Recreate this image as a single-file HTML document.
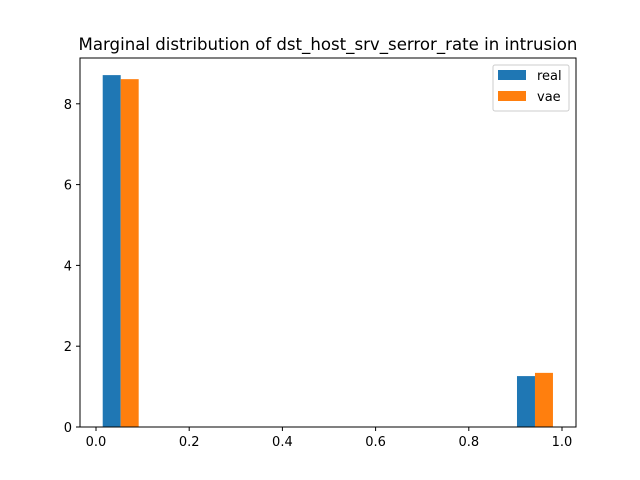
<!DOCTYPE html>
<html><head><meta charset="utf-8"><style>body{margin:0;background:#fff}svg{display:block;font-family:"DejaVu Sans","Liberation Sans",sans-serif}</style></head>
<body>
<svg id="chart" width="640" height="480">
<text x="328" y="50" font-size="16.6" text-anchor="middle">Marginal distribution of dst_host_srv_serror_rate in intrusion</text>
<g id="bars"></g>
<rect x="80" y="58" width="496" height="369" fill="none" stroke="#000" stroke-width="1"/>
<g id="xt"></g><g id="yt"></g>
<g>
<rect x="493" y="65" width="76" height="46" fill="#fff" stroke="#ccc" rx="2"/>
<rect x="498" y="70" width="28" height="10" fill="#1f77b4"/>
<text x="537" y="80" font-size="13">real</text>
<rect x="498" y="91" width="28" height="10" fill="#ff7f0e"/>
<text x="537" y="101" font-size="13">vae</text>
</g>
</svg>
<script>
const binCenters=[0.053,0.942];
const realVals=[8.71,1.26];
const vaeVals=[8.61,1.34];
const xTicks=[0,0.2,0.4,0.6,0.8,1.0];
const xTickLabels=["0.0","0.2","0.4","0.6","0.8","1.0"];
const yTicks=[0,2,4,6,8];
const barW=0.0386;
const NS="http://www.w3.org/2000/svg";
function xs(v){return 96+v*466;}
function ys(v){return 427-v*40.4;}
const bars=document.getElementById('bars');
function mk(t,a,p){const e=document.createElementNS(NS,t);for(const k in a)e.setAttribute(k,a[k]);p.appendChild(e);return e;}
binCenters.forEach((c,i)=>{
 const r=mk('rect',{x:xs(c-barW),y:ys(realVals[i]),width:xs(c)-xs(c-barW),height:ys(0)-ys(realVals[i]),fill:'#1f77b4'},bars);
 
 
 const v=mk('rect',{x:xs(c),y:ys(vaeVals[i]),width:xs(c+barW)-xs(c),height:ys(0)-ys(vaeVals[i]),fill:'#ff7f0e'},bars);
 
 
});
const xt=document.getElementById('xt');
xTicks.forEach((t,i)=>{
 mk('line',{x1:xs(t),x2:xs(t),y1:427,y2:431,stroke:'#000'},xt);
 const l=mk('text',{x:xs(t),y:446,'font-size':13,'text-anchor':'middle'},xt);l.textContent=xTickLabels[i];
 
 
});
const yt=document.getElementById('yt');
yTicks.forEach(t=>{
 mk('line',{x1:76,x2:80,y1:ys(t),y2:ys(t),stroke:'#000'},yt);
 const l=mk('text',{x:72,y:ys(t)+5,'font-size':13,'text-anchor':'end'},yt);l.textContent=t;
 
 
});
</script>
</body></html>
